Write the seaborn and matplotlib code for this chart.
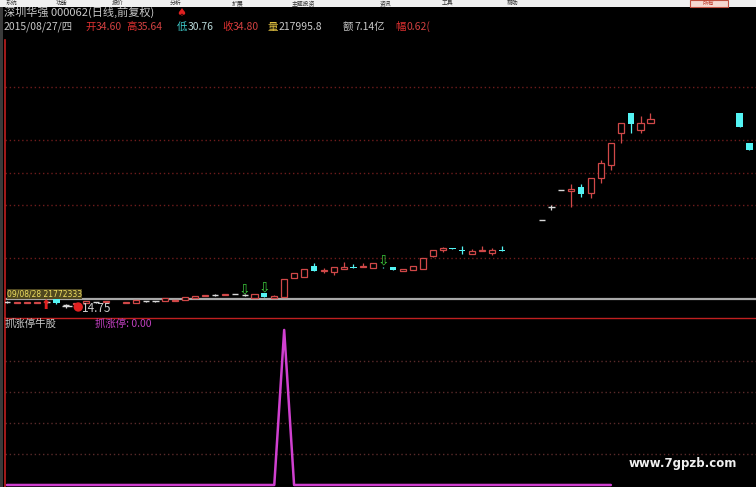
"""
深圳华强 日K线 + 抓涨停牛股 指标 (仿行情软件截图)
"""

import matplotlib
matplotlib.use("Agg")
import matplotlib.pyplot as plt
import seaborn as sns
import pandas as pd

# 风格: 黑底
sns.set_style("dark", {"axes.facecolor": "black", "figure.facecolor": "black"})
plt.rcParams['font.family'] = ['Noto Sans CJK SC', 'DejaVu Sans']

# ---- 数据 (从截图估读) ----
day_idx = list(range(0, 51)) + list(range(54, 66)) + [74, 75]
opens = [15.35, 15.30, 15.30, 15.30, 15.35, 15.85, 15.05, 15.20, 15.25, 15.35,
         15.40, 15.40, 15.30, 15.25, 15.45, 15.45, 15.45, 15.50, 15.55, 15.75,
         15.95, 16.05, 16.05, 16.15, 16.05, 15.75, 16.25, 15.75, 15.85, 17.75,
         17.85, 18.95, 18.45, 18.35, 18.65, 18.85, 18.85, 18.75, 18.90, 18.85,
         18.45, 18.55, 18.65, 19.95, 20.55, 20.75, 20.55, 20.15, 20.45, 20.25,
         20.55,
         23.55, 24.85, 26.55, 26.50, 26.85, 26.25, 27.75, 29.05, 32.25, 34.25,
         32.55, 33.25,
         34.25, 31.25]
closes = [15.35, 15.40, 15.40, 15.40, 15.35, 15.25, 15.05, 15.30, 15.45, 15.35,
          15.50, 15.35, 15.40, 15.55, 15.45, 15.45, 15.75, 15.60, 15.85, 15.95,
          16.05, 16.05, 16.15, 16.15, 16.05, 16.15, 15.85, 15.95, 17.65, 18.25,
          18.65, 18.45, 18.55, 18.85, 18.85, 18.75, 18.95, 19.25, 18.85, 18.55,
          18.65, 18.95, 19.75, 20.55, 20.75, 20.65, 20.45, 20.45, 20.55, 20.55,
          20.45,
          23.55, 24.85, 26.55, 26.60, 26.15, 27.75, 29.25, 31.25, 33.25, 33.15,
          33.25, 33.65,
          32.85, 30.55]
highs = [15.45, 15.40, 15.40, 15.40, 15.45, 15.85, 15.15, 15.30, 15.45, 15.40,
         15.50, 15.40, 15.40, 15.55, 15.50, 15.50, 15.75, 15.60, 15.85, 15.95,
         16.05, 16.10, 16.15, 16.20, 16.10, 16.15, 16.25, 16.05, 17.65, 18.25,
         18.65, 19.25, 18.75, 18.85, 19.35, 19.15, 19.25, 19.25, 18.90, 18.85,
         18.65, 18.95, 19.75, 20.55, 20.85, 20.75, 20.95, 20.65, 20.95, 20.75,
         20.95,
         23.55, 25.05, 26.55, 27.15, 27.15, 27.75, 29.55, 31.25, 33.25, 34.25,
         33.95, 34.25,
         34.25, 31.25]
lows = [15.25, 15.30, 15.30, 15.30, 15.25, 15.15, 14.75, 15.10, 15.25, 15.30,
        15.40, 15.35, 15.30, 15.25, 15.40, 15.40, 15.45, 15.50, 15.55, 15.75,
        15.95, 16.00, 16.05, 16.10, 16.00, 15.75, 15.85, 15.75, 15.85, 17.75,
        17.85, 18.45, 18.25, 18.05, 18.65, 18.75, 18.85, 18.75, 18.80, 18.55,
        18.45, 18.55, 18.65, 19.85, 20.35, 20.65, 20.15, 20.15, 20.45, 20.05,
        20.45,
        23.55, 24.55, 26.55, 24.85, 25.85, 25.75, 27.25, 28.55, 31.25, 32.25,
        32.25, 33.25,
        32.85, 30.55]

# 价格区网格线
price_grid = [19.75, 25.05, 28.25, 31.55, 36.85]
price_line = 15.65          # 灰色水平线
low_price = 14.75           # 最低价标注
signal_arrows = [(24, 16.65), (26, 16.85), (38, 19.55)]   # 绿色空心箭头

# 抓涨停指标
zt_idx = list(range(0, 62))
zt_val = [0, 0, 0, 0, 0, 0, 0, 0, 0, 0, 0, 0, 0, 0, 0, 0, 0, 0, 0, 0,
          0, 0, 0, 0, 0, 0, 0, 0, 1, 0, 0, 0, 0, 0, 0, 0, 0, 0, 0, 0,
          0, 0, 0, 0, 0, 0, 0, 0, 0, 0, 0, 0, 0, 0, 0, 0, 0, 0, 0, 0,
          0, 0]
zt_grid = [0.2, 0.4, 0.6, 0.8]

RED = '#d04848'
CYAN = '#54f4f4'
DOJI = '#d8d8d8'
MAGENTA = '#d040d0'
GRIDRED = '#6e1c1c'

W, H = 756, 487


def fx(px):
    return px / W


def fy(py):
    return 1 - py / H


fig = plt.figure(figsize=(7.56, 4.87), dpi=100)
fig.patch.set_facecolor('black')

ax = fig.add_axes([fx(5), fy(318), 751 / W, 278 / H])
ax2 = fig.add_axes([fx(5), 0, 751 / W, 169 / H])

for a in (ax, ax2):
    a.set_facecolor('black')
    a.set_xlim(-0.2, 75.66)
    a.set_xticks([])
    a.set_yticks([])
    a.grid(False)
    for s in a.spines.values():
        s.set_visible(False)
    a.spines['left'].set_visible(True)
    a.spines['left'].set_color('#c02020')
    a.spines['left'].set_linewidth(1.2)

ax.set_ylim(13.75, 41.55)
ax2.set_ylim(-0.013, 1.077)
ax2.spines['top'].set_visible(True)
ax2.spines['top'].set_color('#c02020')
ax2.spines['top'].set_linewidth(1.0)

# 网格
for g in price_grid:
    ax.axhline(g, color=GRIDRED, lw=1.0, ls=(0, (1, 2)), zorder=1)
for g in zt_grid:
    ax2.axhline(g, color='#5a2a2a', lw=1.0, ls=(0, (1, 2)), zorder=1)

ax.axhline(price_line, color='#a8a8a8', lw=1.6, zorder=2)

# K线
df = pd.DataFrame({'i': day_idx, 'o': opens, 'c': closes, 'h': highs, 'l': lows})
bw = 0.62
for r in df.itertuples():
    if r.c > r.o:
        ax.bar(r.i, r.c - r.o, bottom=r.o, width=bw, facecolor='black',
               edgecolor=RED, linewidth=0.9, zorder=4)
        if r.h > r.c:
            ax.vlines(r.i, r.c, r.h, color=RED, lw=0.9, zorder=3)
        if r.l < r.o:
            ax.vlines(r.i, r.l, r.o, color=RED, lw=0.9, zorder=3)
    elif r.c < r.o:
        ax.vlines(r.i, r.l, r.h, color=CYAN, lw=0.9, zorder=3)
        ax.bar(r.i, r.o - r.c, bottom=r.c, width=bw, color=CYAN,
               linewidth=0, zorder=4)
    else:
        ax.vlines(r.i, r.l, r.h, color=DOJI, lw=0.9, zorder=3)
        ax.hlines(r.o, r.i - bw / 2, r.i + bw / 2, color=DOJI, lw=1.0, zorder=4)

# 标记
for xi, yv in signal_arrows:
    ax.text(xi, yv, '⇩', color='#3cc83c', fontsize=10, ha='center', va='center',
            family=['DejaVu Sans'], zorder=5)
ax.text(4, 15.0, '⬆', color='#e02020', fontsize=9, ha='center', va='center',
        family=['DejaVu Sans'], zorder=5)
sns.scatterplot(x=[7.2], y=[14.85], ax=ax, color='#e02020', s=45,
                edgecolor='none', zorder=5, legend=False)
ax.hlines(low_price + 0.2, 5.6, 6.6, color=DOJI, lw=1.0, zorder=5)
ax.text(7.6, low_price, f'{low_price:.2f}', color='#cfcfcf', fontsize=8.5,
        ha='left', va='center', zorder=6)
ax.text(0.0, 16.15, '09/08/28 21772333', color='#f0e060', fontsize=5.5,
        ha='left', va='center', zorder=6, family=['DejaVu Sans'],
        bbox=dict(facecolor='#504820', edgecolor='none', pad=0.3))

# 指标线
sns.lineplot(x=zt_idx, y=zt_val, ax=ax2, color=MAGENTA, lw=1.8, zorder=4)

# 顶部菜单条
fig.patches.append(plt.Rectangle((0, fy(7)), 1, 7 / H, transform=fig.transFigure,
                                 facecolor='#f0f0f0', edgecolor='none'))
menu = ['系统', '功能', '报价', '分析', '扩展', '主题投资', '资讯', '工具', '帮助']
mx = [6, 56, 112, 170, 232, 292, 380, 442, 507]
for m, x in zip(menu, mx):
    fig.text(fx(x), fy(3.5), m, color='#303030', fontsize=4.2, ha='left',
             va='center')
fig.patches.append(plt.Rectangle((fx(690), fy(7)), 38 / W, 7 / H,
                                 transform=fig.transFigure, facecolor='#f6d8d0',
                                 edgecolor='#c05040', lw=0.8))
fig.text(fx(709), fy(3.5), '所有', color='#c04030', fontsize=4.2, ha='center',
         va='center')

# 左侧窄条
fig.patches.append(plt.Rectangle((0, 0), 3 / W, fy(7), transform=fig.transFigure,
                                 facecolor='#3a3a3a', edgecolor='none'))

# 标题行
fig.text(fx(4), fy(12.5), '深圳华强 000062(日线,前复权)', color='#c8c8c8',
         fontsize=8, ha='left', va='center')
fig.text(fx(181), fy(12.5), '♠', color='#e02020', fontsize=8, ha='center',
         va='center', family=['DejaVu Sans'])

info = [('2015/08/27/四', '#c8c8c8', 4),
        ('开', '#e03030', 85), ('34.60', '#d04040', 96),
        ('高', '#e03030', 126), ('35.64', '#d04040', 137),
        ('低', '#40d0d0', 177), ('30.76', '#b8d8d8', 188),
        ('收', '#e03030', 222), ('34.80', '#d04040', 233),
        ('量', '#e0c040', 268), ('217995.8', '#c8c8c8', 279),
        ('额', '#c8c8c8', 343), ('7.14亿', '#c8c8c8', 354),
        ('幅', '#e03030', 395), ('0.62(', '#d04040', 406)]
for t, c, x in info:
    fig.text(fx(x), fy(27), t, color=c, fontsize=7.5, ha='left', va='center')

# 副图标题
fig.text(fx(5), fy(324), '抓涨停牛股', color='#c8c8c8', fontsize=7.5,
         ha='left', va='center')
fig.text(fx(95), fy(324), '抓涨停: 0.00', color='#c040c0', fontsize=7.5,
         ha='left', va='center')

# 水印
fig.text(fx(683), fy(463), 'www.7gpzb.com', color='#f0f0f0', fontsize=8.5,
         fontweight='bold', ha='center', va='center', family=['DejaVu Sans'])

fig.savefig('out.png', dpi=100, facecolor='black')
